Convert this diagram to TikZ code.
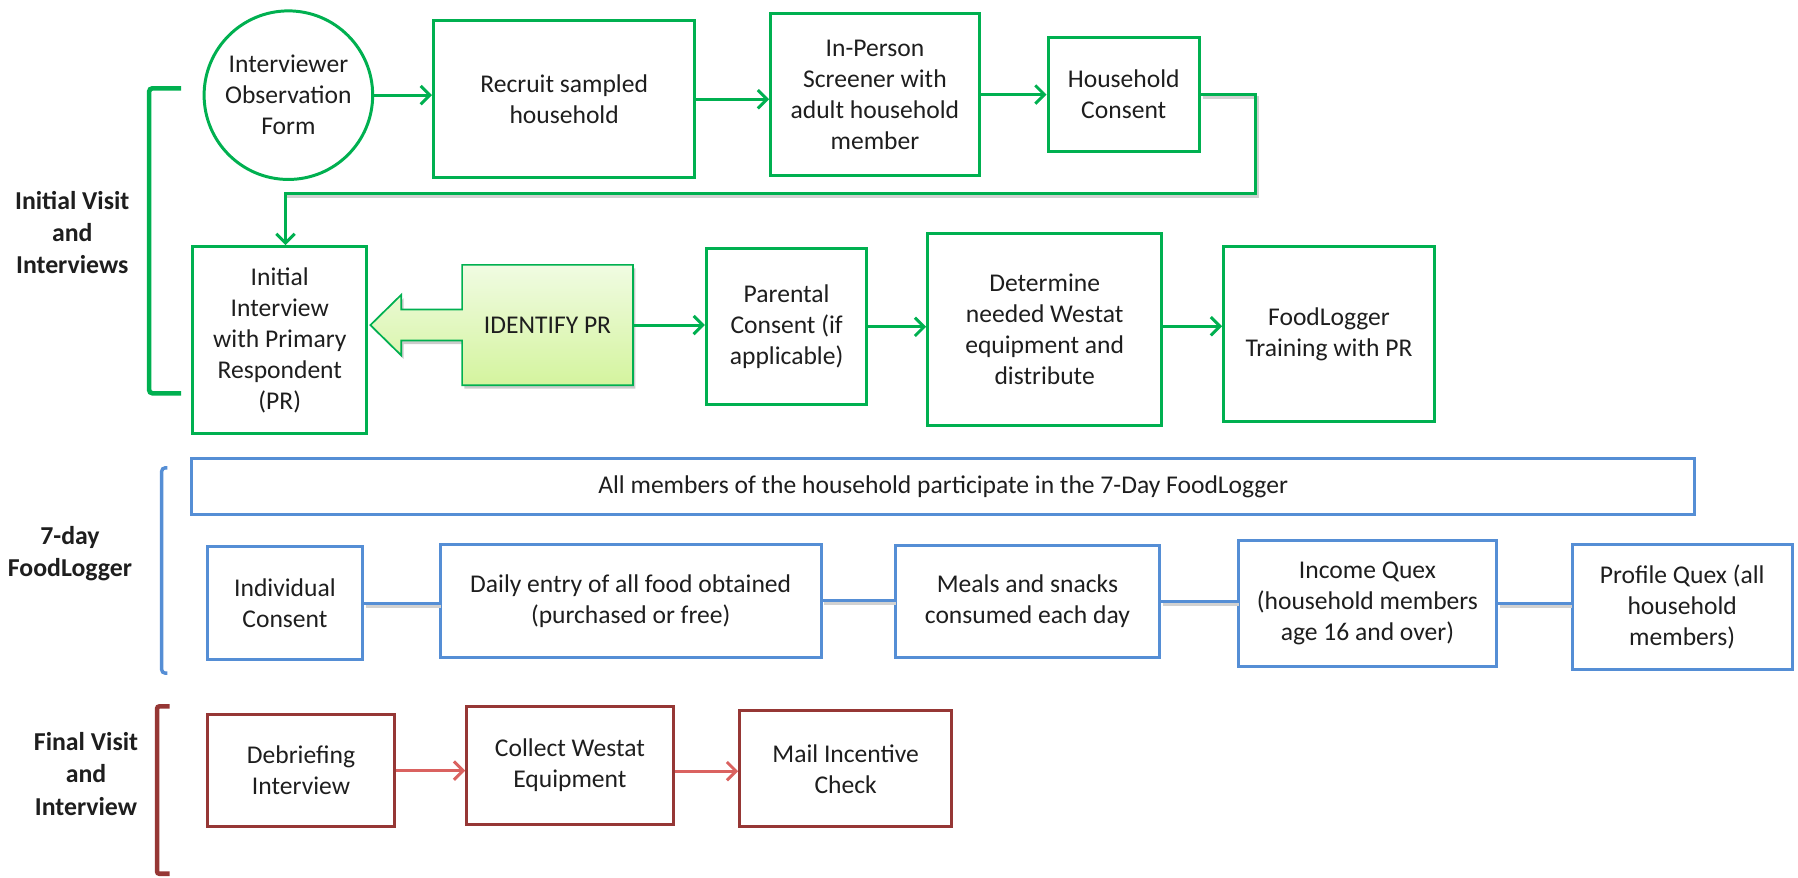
\documentclass[tikz,border=0pt]{standalone}
\usepackage{fontspec}
\setmainfont{Carlito}
\usetikzlibrary{arrows.meta}
\definecolor{gr}{RGB}{0,176,80}
\definecolor{bl}{RGB}{85,142,213}
\definecolor{dr}{RGB}{150,55,53}
\definecolor{lr}{RGB}{218,98,96}
\definecolor{tx}{RGB}{30,30,30}
\definecolor{idtop}{RGB}{240,251,226}
\definecolor{idbot}{RGB}{212,244,158}
\begin{document}
\begin{tikzpicture}[x=1pt,y=-1pt,
  base/.style={rectangle, align=center, text=tx, font=\fontsize{22.3}{27}\selectfont, inner sep=0pt},
  gbox/.style={base, draw=gr, line width=2.6pt},
  bbox/.style={base, draw=bl, line width=2.6pt},
  rbox/.style={base, draw=dr, line width=2.6pt},
  lab/.style={align=center, text=tx, font=\bfseries\fontsize{22.5}{28}\selectfont},
  garr/.style={draw=gr, line width=2.6pt, -{Straight Barb[length=8pt,width=16pt]}},
  rarr/.style={draw=lr, line width=2.6pt, -{Straight Barb[length=8pt,width=16pt]}},
  bline/.style={draw=bl, line width=2.6pt},
  shad/.style={draw=black!18, line width=2.6pt, transform canvas={shift={(1.5pt,-2.5pt)}}},
]
\useasboundingbox (0,0) rectangle (1568,765);

% brackets and section labels
\draw[gr, line width=4pt, rounded corners=3pt] (158,77) -- (130,77) -- (130,343) -- (158,343);
\draw[bl, line width=3pt, rounded corners=3pt] (146,408) -- (141,408) -- (141,587) -- (146,587);
\draw[dr, line width=4pt, rounded corners=2pt] (148,616) -- (137,616) -- (137,762) -- (148,762);
\node[lab] (labinit) at (63,203) {Initial Visit\\and\\Interviews};
\node[lab] (labfood) at (61,483) {7-day\\FoodLogger};
\node[lab] (labfinal) at (75,675) {Final Visit\\and\\Interview};

% row 1
\node[base, circle, draw=gr, line width=2.6pt, minimum size=147pt] (obs) at (251.5,83) {Interviewer\\Observation\\Form};
\node[gbox, minimum width=228pt, minimum height=137pt] (recruit) at (492,86.5) {Recruit sampled\\household};
\node[gbox, minimum width=182pt, minimum height=141pt] (inperson) at (763,82.5) {In-Person\\Screener with\\adult household\\member};
\node[gbox, minimum width=132pt, minimum height=99pt] (household) at (980,82.5) {Household\\Consent};

\draw[garr] (obs.east) -- (obs.east -| recruit.west);
\draw[garr] (recruit.east) -- (recruit.east -| inperson.west);
\draw[garr] (inperson.east) -- (inperson.east -| household.west);

% row 2
\node[gbox, minimum width=152pt, minimum height=163pt] (initial) at (244,296.5) {Initial\\Interview\\with Primary\\Respondent\\(PR)};

\fill[black!20, transform canvas={shift={(2pt,-3pt)}}] (403,231) -- (552,231) -- (552,336) -- (403,336) -- (403,297) -- (350,297) -- (350,310) -- (323,283.5) -- (350,257) -- (350,270) -- (403,270) -- cycle;
\path[draw=gr, line width=1.5pt, top color=idtop, bottom color=idbot] (403,231) -- (552,231) -- (552,336) -- (403,336) -- (403,297) -- (350,297) -- (350,310) -- (323,283.5) -- (350,257) -- (350,270) -- (403,270) -- cycle;
\node[base, minimum width=149pt, minimum height=105pt] (idpr) at (477.5,283.5) {IDENTIFY PR};

\node[gbox, minimum width=140pt, minimum height=136pt] (parental) at (686,285) {Parental\\Consent (if\\applicable)};
\node[gbox, minimum width=204pt, minimum height=167pt] (determine) at (911,287.5) {Determine\\needed Westat\\equipment and\\distribute};
\node[gbox, minimum width=184pt, minimum height=153pt] (foodlogger) at (1159,291.5) {FoodLogger\\Training with PR};

\draw[garr] (idpr.east) -- (idpr.east -| parental.west);
\draw[garr] (parental.east) -- (parental.east -| determine.west);
\draw[garr] ([yshift=3pt]determine.east) -- ([yshift=3pt]determine.east -| foodlogger.west);

% feedback connector
\coordinate (fbr) at (1095,169);
\coordinate (fbl) at (249,169);
\draw[shad] (household.east) -| (fbr) -- (fbl);
\draw[garr] (household.east) -| (fbr) -- (fbl) -- (fbl |- initial.north);

% row 3 (blue)
\node[bbox, minimum width=1311pt, minimum height=49pt] (all) at (822.5,424.5) {All members of the household participate in the 7-Day FoodLogger};
\node[bbox, minimum width=135pt, minimum height=98pt] (indiv) at (248.5,526) {Individual\\Consent};
\node[bbox, minimum width=332pt, minimum height=98pt] (daily) at (550,524) {Daily entry of all food obtained\\(purchased or free)};
\node[bbox, minimum width=230pt, minimum height=97pt] (meals) at (896,524.5) {Meals and snacks\\consumed each day};
\node[bbox, minimum width=225pt, minimum height=110pt] (income) at (1192.5,526) {Income Quex\\(household members\\age 16 and over)};
\node[bbox, minimum width=192pt, minimum height=109pt] (profile) at (1467,529.5) {Profile Quex (all\\household\\members)};

\foreach \a/\b in {indiv/daily, daily/meals, meals/income, income/profile}{
  \draw[shad] (\a.east) -- (\a.east -| \b.west);
  \draw[bline] (\a.east) -- (\a.east -| \b.west);
}

% row 4 (red)
\node[rbox, minimum width=163pt, minimum height=98pt] (debrief) at (262.5,672) {Debriefing\\Interview};
\node[rbox, minimum width=180pt, minimum height=103pt] (collect) at (497,667.5) {Collect Westat\\Equipment};
\node[rbox, minimum width=185pt, minimum height=101pt] (mail) at (737.5,670.5) {Mail Incentive\\Check};

\draw[rarr] (debrief.east) -- (debrief.east -| collect.west);
\draw[rarr] ([yshift=-5pt]collect.east) -- ([yshift=-5pt]collect.east -| mail.west);
\end{tikzpicture}
\end{document}
